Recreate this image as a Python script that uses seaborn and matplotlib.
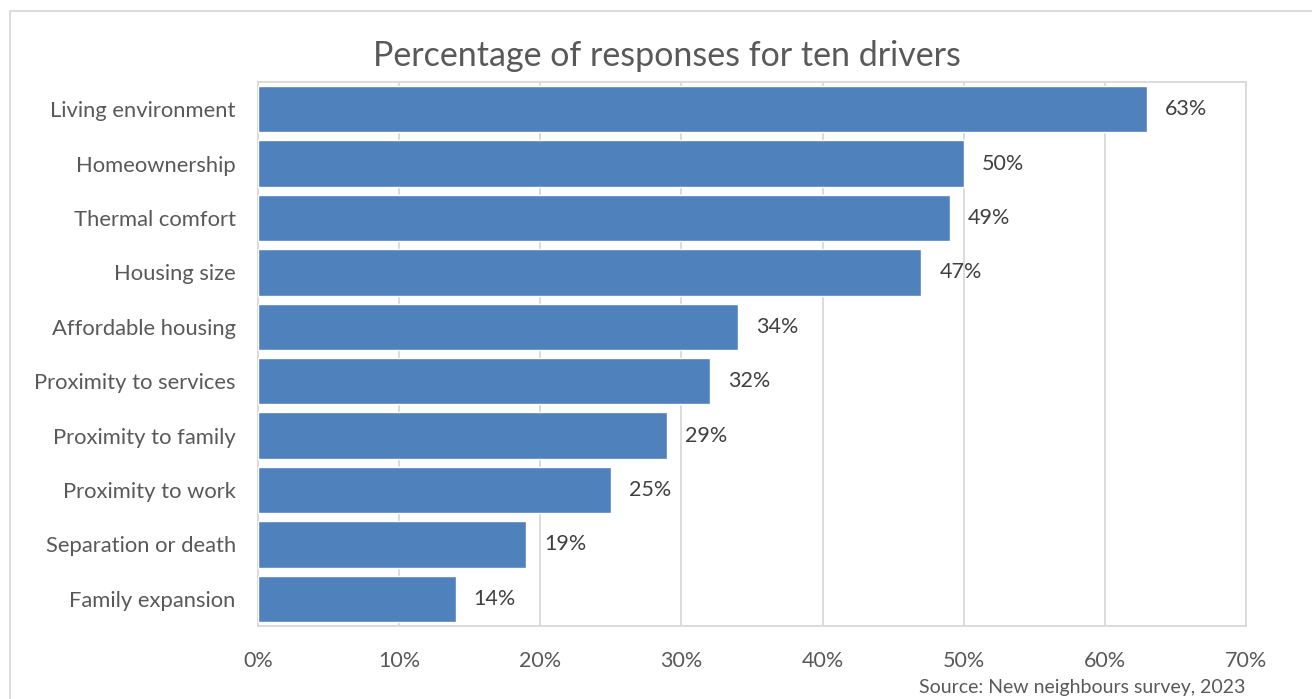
import matplotlib
matplotlib.use("Agg")
import matplotlib.pyplot as plt
import seaborn as sns
import pandas as pd
from matplotlib.patches import Rectangle

# --- data ---
drivers = ["Living environment", "Homeownership", "Thermal comfort", "Housing size",
           "Affordable housing", "Proximity to services", "Proximity to family",
           "Proximity to work", "Separation or death", "Family expansion"]
pct = [63, 50, 49, 47, 34, 32, 29, 25, 19, 14]
x_ticks = [0, 10, 20, 30, 40, 50, 60, 70]

df = pd.DataFrame({"driver": drivers, "pct": pct})

sns.set_theme(style="white")
plt.rcParams["font.family"] = ["Lato", "DejaVu Sans"]
text_col = "#595959"
grid_col = "#d9d9d9"
bar_col = "#4f81bd"

fig = plt.figure(figsize=(13.12, 6.99), dpi=100)
ax = fig.add_axes([258 / 1312, 1 - 626 / 699, 988 / 1312, 544 / 699])

sns.barplot(data=df, x="pct", y="driver", color=bar_col, saturation=1,
            width=0.85, ax=ax, zorder=3)

ax.set_xlim(0, 70)
ax.set_xticks(x_ticks)
ax.set_xticklabels([f"{t}%" for t in x_ticks], color=text_col, fontsize=15.5)
ax.tick_params(axis="y", labelsize=15.8, labelcolor=text_col, length=0, pad=16)
ax.tick_params(axis="x", length=0, pad=18)
ax.set_xlabel("")
ax.set_ylabel("")
ax.grid(axis="x", color=grid_col, linewidth=1.3, zorder=0)
for s in ax.spines.values():
    s.set_color(grid_col)
    s.set_linewidth(1.3)

for c in ax.containers:
    ax.bar_label(c, labels=[f"{v}%" for v in pct], padding=13,
                 fontsize=15.5, color="#404040")

fig.text(667 / 1312, 1 - 56 / 699, "Percentage of responses for ten drivers",
         ha="center", va="center", fontsize=24.5, color=text_col)
fig.text(1245 / 1312, 1 - 687 / 699, "Source: New neighbours survey, 2023",
         ha="right", va="center", fontsize=14, color=text_col)

# outer chart border (runs off the right / bottom edge)
fig.patches.append(Rectangle((10 / 1312, -0.05), 1.2, 1 - 11 / 699 + 0.05,
                             transform=fig.transFigure, fill=False,
                             edgecolor=grid_col, linewidth=1.3))

fig.savefig("out.png", dpi=100)
